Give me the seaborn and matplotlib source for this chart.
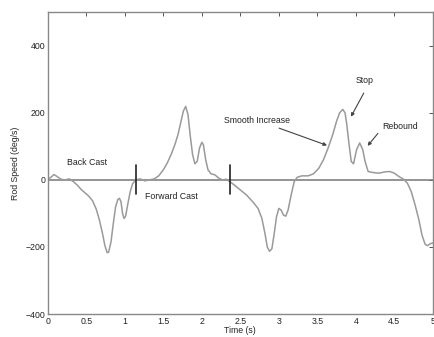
import seaborn as sns
import pandas as pd
import matplotlib.pyplot as plt

# rod speed trace
time_s = [0.00, 0.04, 0.08, 0.12, 0.17, 0.22, 0.28, 0.33, 0.38, 0.43, 0.48, 0.53,
          0.58, 0.63, 0.67, 0.71, 0.74, 0.77, 0.79, 0.82, 0.85, 0.88, 0.91, 0.93,
          0.95, 0.97, 0.99, 1.01, 1.04, 1.07, 1.10, 1.14, 1.20, 1.26, 1.32, 1.38,
          1.44, 1.50, 1.55, 1.60, 1.65, 1.69, 1.73, 1.76, 1.79, 1.82, 1.85, 1.88,
          1.91, 1.94, 1.97, 2.00, 2.02, 2.05, 2.08, 2.12, 2.17, 2.22, 2.27, 2.32,
          2.36, 2.42, 2.50, 2.58, 2.66, 2.73, 2.78, 2.82, 2.85, 2.88, 2.91, 2.94,
          2.97, 3.00, 3.03, 3.06, 3.09, 3.12, 3.16, 3.20, 3.24, 3.30, 3.38, 3.45,
          3.52, 3.58, 3.64, 3.70, 3.75, 3.79, 3.83, 3.86, 3.88, 3.91, 3.94, 3.97,
          4.01, 4.05, 4.09, 4.12, 4.16, 4.22, 4.30, 4.38, 4.44, 4.50, 4.56, 4.62,
          4.67, 4.72, 4.77, 4.82, 4.86, 4.90, 4.93, 4.97, 5.00]
speed = [0, 8, 16, 10, 2, 0, 3, -5, -15, -28, -38, -48,
         -62, -88, -120, -160, -195, -217, -215, -185, -130, -80, -58, -55,
         -65, -100, -115, -108, -70, -35, -12, 0, 3, -3, 0, 3,
         12, 30, 50, 75, 105, 135, 175, 205, 219, 195, 130, 75,
         48, 55, 95, 112, 105, 60, 30, 18, 15, 5, 0, 2,
         -5, -15, -30, -45, -65, -85, -115, -160, -200, -213, -205, -160,
         -110, -85, -90, -105, -108, -90, -45, -5, 8, 12, 12, 18,
         35, 60, 95, 135, 175, 200, 210, 200, 170, 110, 55, 48,
         90, 110, 90, 55, 25, 22, 20, 24, 25, 20, 10, 2,
         -10, -35, -75, -120, -165, -192, -196, -190, -188]

phase_marks = [1.14, 2.36]
phase_labels = ["Back Cast", "Forward Cast"]
phase_label_pos = [(0.51, 53), (1.61, -50)]

notes = ["Smooth Increase", "Stop", "Rebound"]
note_text_pos = [(2.72, 178), (4.12, 296), (4.58, 160)]
note_tail = [(2.97, 157), (4.12, 266), (4.31, 145)]
note_tip = [(3.66, 100), (3.92, 181), (4.13, 95)]

df = pd.DataFrame({"Time (s)": time_s, "Rod Speed (deg/s)": speed})

sns.set_style("white")
plt.rcParams["font.family"] = ["Liberation Sans", "DejaVu Sans"]

fig = plt.figure(figsize=(4.35, 3.37), dpi=100)
ax = fig.add_axes([0.110, 0.068, 0.885, 0.896])

ax.axhline(0, color="#777777", lw=1.1, zorder=1)
sns.lineplot(data=df, x="Time (s)", y="Rod Speed (deg/s)", ax=ax,
             color="#9a9a9a", lw=1.1, zorder=2)

for xm in phase_marks:
    ax.plot([xm, xm], [-42, 45], color="#222222", lw=1.2, zorder=3)

for lab, (x, y) in zip(phase_labels, phase_label_pos):
    ax.text(x, y, lab, fontsize=6.3, ha="center", va="center", color="#222222")

for lab, (x, y), tail, tip in zip(notes, note_text_pos, note_tail, note_tip):
    ax.text(x, y, lab, fontsize=6.3, ha="center", va="center", color="#222222")
    ax.annotate("", xy=tip, xytext=tail,
                arrowprops=dict(arrowstyle="-|>", color="#444444", lw=0.8,
                                mutation_scale=5))

ax.set_xlim(0, 5)
ax.set_ylim(-400, 500)
ax.set_xticks([0, 0.5, 1, 1.5, 2, 2.5, 3, 3.5, 4, 4.5, 5])
ax.set_xticklabels(["0", "0.5", "1", "1.5", "2", "2.5", "3", "3.5", "4", "4.5", "5"])
ax.set_yticks([-400, -200, 0, 200, 400])
ax.tick_params(direction="in", length=3, width=0.7, labelsize=6.3,
               top=True, right=True, colors="#555555", labelcolor="#222222", pad=2)
for s in ax.spines.values():
    s.set_color("#888888")
    s.set_linewidth(1.0)
ax.set_xlabel("Time (s)", fontsize=6.3, labelpad=0)
ax.set_ylabel("Rod Speed (deg/s)", fontsize=6.3, labelpad=4)

fig.savefig("out.png", dpi=100, facecolor="white")
